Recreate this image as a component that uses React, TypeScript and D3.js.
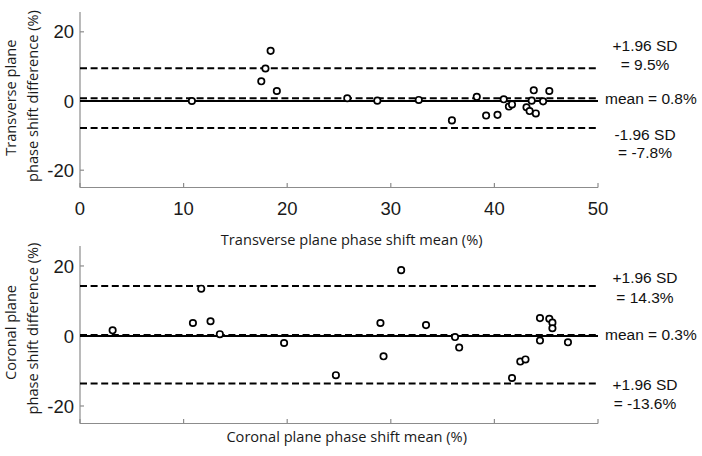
import React from "react";
import * as d3 from "d3";

// ---- data ----
const transverseMean = [10.8, 17.5, 17.9, 18.4, 19.0, 25.8, 28.7, 32.7, 35.9, 38.3, 39.2, 40.3, 40.9, 41.4, 41.7, 43.1, 43.4, 43.6, 43.8, 44.0, 44.7, 45.3];
const transverseDiff = [0.0, 5.7, 9.4, 14.5, 2.9, 0.8, 0.1, 0.3, -5.6, 1.2, -4.2, -4.0, 0.5, -1.6, -1.0, -1.8, -2.9, 0.1, 3.1, -3.6, -0.1, 2.9];
const transverseLimits = { mean: 0.8, upper: 9.5, lower: -7.8 };
const transverseUpperText = ["+1.96 SD", "= 9.5%"];
const transverseMeanText = "mean = 0.8%";
const transverseLowerText = ["-1.96 SD", "= -7.8%"];

const coronalMean = [3.15, 10.9, 11.7, 12.6, 13.5, 19.7, 24.7, 29.0, 29.3, 31.0, 33.4, 36.2, 36.6, 41.7, 42.5, 43.0, 44.4, 45.3, 45.6, 45.6, 44.4, 47.1];
const coronalDiff = [1.6, 3.7, 13.5, 4.2, 0.5, -2.0, -11.2, 3.7, -5.8, 18.8, 3.1, -0.3, -3.3, -12.0, -7.3, -6.7, 5.1, 4.9, 3.8, 2.2, -1.3, -1.8];
const coronalLimits = { mean: 0.3, upper: 14.3, lower: -13.6 };
const coronalUpperText = ["+1.96 SD", "= 14.3%"];
const coronalMeanText = "mean = 0.3%";
const coronalLowerText = ["+1.96 SD", "= -13.6%"];

const xTicks = [0, 10, 20, 30, 40, 50];
const yTicks = [-20, 0, 20];
const xDomain: [number, number] = [0, 50];
const yDomain: [number, number] = [-25, 25.7];

const tickFont = "'Liberation Sans', Arial, Helvetica, sans-serif";
const labelFont = "'Open Sans', 'Noto Sans', sans-serif";
const axisColor = "#8c8c8c";

type PanelProps = {
  xs: number[];
  ys: number[];
  limits: { mean: number; upper: number; lower: number };
  upperText: string[];
  meanText: string;
  lowerText: string[];
  yRange: [number, number];
  showXLabels: boolean;
  xTitle: string;
  xTitleX: number;
  xTitleY: number;
  yTitle: string[];
  yTitleCenters: number[];
  upperOffsets: number[];
  lowerOffsets: number[];
  meanOffset: number;
};

function Panel(p: PanelProps) {
  const x = d3.scaleLinear().domain(xDomain).range([80, 598]);
  const y = d3.scaleLinear().domain(yDomain).range(p.yRange);
  const [x0, x1] = x.range();
  const yBottom = y(yDomain[0]);
  const yTop = y(yDomain[1]);
  const dash = "7,3.6";
  return (
    <g>
      {/* axes */}
      <line x1={x0} x2={x0} y1={yTop} y2={yBottom} stroke={axisColor} strokeWidth={1.2} />
      <line x1={x0} x2={x1} y1={yBottom} y2={yBottom} stroke={axisColor} strokeWidth={1.2} />
      {yTicks.map((t) => (
        <g key={"yt" + t}>
          <line x1={x0} x2={x0 + 4} y1={y(t)} y2={y(t)} stroke={axisColor} strokeWidth={1.2} />
          <text x={x0 - 6} y={y(t)} dy="0.36em" textAnchor="end" fontFamily={tickFont} fontSize={18.5} fill="#1a1a1a">
            {t}
          </text>
        </g>
      ))}
      {xTicks.map((t) => (
        <g key={"xt" + t}>
          <line x1={x(t)} x2={x(t)} y1={yBottom} y2={yBottom - 4.5} stroke={axisColor} strokeWidth={1.2} />
          {p.showXLabels && (
            <text x={x(t)} y={yBottom + 27} textAnchor="middle" fontFamily={tickFont} fontSize={18.5} fill="#1a1a1a">
              {t}
            </text>
          )}
        </g>
      ))}
      {/* reference lines */}
      <line x1={x0} x2={x1} y1={y(0)} y2={y(0)} stroke="#000" strokeWidth={2.2} />
      <line x1={x0} x2={x1} y1={y(p.limits.mean)} y2={y(p.limits.mean)} stroke="#000" strokeWidth={2} strokeDasharray={dash} />
      <line x1={x0} x2={x1} y1={y(p.limits.upper)} y2={y(p.limits.upper)} stroke="#000" strokeWidth={2} strokeDasharray={dash} />
      <line x1={x0} x2={x1} y1={y(p.limits.lower)} y2={y(p.limits.lower)} stroke="#000" strokeWidth={2} strokeDasharray={dash} />
      {/* points */}
      {p.xs.map((v, i) => (
        <circle key={"pt" + i} cx={x(v)} cy={y(p.ys[i])} r={3.2} fill="#fff" stroke="#000" strokeWidth={1.7} />
      ))}
      {/* annotations */}
      <g fontFamily={tickFont} fontSize={15.5} fill="#111">
        {p.upperText.map((s, i) => (
          <text key={"u" + i} x={645} y={y(p.limits.upper) + p.upperOffsets[i]} textAnchor="middle">{s}</text>
        ))}
        <text x={605} y={y(p.limits.mean) + p.meanOffset}>{p.meanText}</text>
        {p.lowerText.map((s, i) => (
          <text key={"l" + i} x={645} y={y(p.limits.lower) + p.lowerOffsets[i]} textAnchor="middle">{s}</text>
        ))}
      </g>
      {/* titles */}
      <text x={p.xTitleX} y={p.xTitleY} textAnchor="middle" fontFamily={labelFont} fontSize={14.6} fill="#1a1a1a">
        {p.xTitle}
      </text>
      {p.yTitle.map((s, i) => (
        <text
          key={"yl" + i}
          transform={`translate(${i === 0 ? 16 : 37.5},${p.yTitleCenters[i]}) rotate(-90)`}
          textAnchor="middle"
          fontFamily={labelFont}
          fontSize={14.6}
          fill="#1a1a1a"
        >
          {s}
        </text>
      ))}
    </g>
  );
}

export default function App() {
  return (
    <svg width={702} height={456} style={{ position: "absolute", left: 0, top: 0, background: "#fff" }}>
      <rect x={0} y={0} width={702} height={456} fill="#fff" />
      <Panel
        xs={transverseMean}
        ys={transverseDiff}
        limits={transverseLimits}
        upperText={transverseUpperText}
        meanText={transverseMeanText}
        lowerText={transverseLowerText}
        yRange={[187.5, 12.1]}
        showXLabels={true}
        xTitle="Transverse plane phase shift mean (%)"
        xTitleX={351.7}
        xTitleY={244.5}
        yTitle={["Transverse plane", "phase shift difference (%)"]}
        yTitleCenters={[97.7, 96]}
        upperOffsets={[-17, 2]}
        lowerOffsets={[12, 30.5]}
        meanOffset={5.5}
      />
      <Panel
        xs={coronalMean}
        ys={coronalDiff}
        limits={coronalLimits}
        upperText={coronalUpperText}
        meanText={coronalMeanText}
        lowerText={coronalLowerText}
        yRange={[423.5, 246]}
        showXLabels={false}
        xTitle="Coronal plane phase shift mean (%)"
        xTitleX={346.7}
        xTitleY={441.5}
        yTitle={["Coronal plane", "phase shift difference (%)"]}
        yTitleCenters={[332.5, 328.5]}
        upperOffsets={[-2.7, 16.7]}
        lowerOffsets={[6.4, 25.7]}
        meanOffset={5}
      />
    </svg>
  );
}
